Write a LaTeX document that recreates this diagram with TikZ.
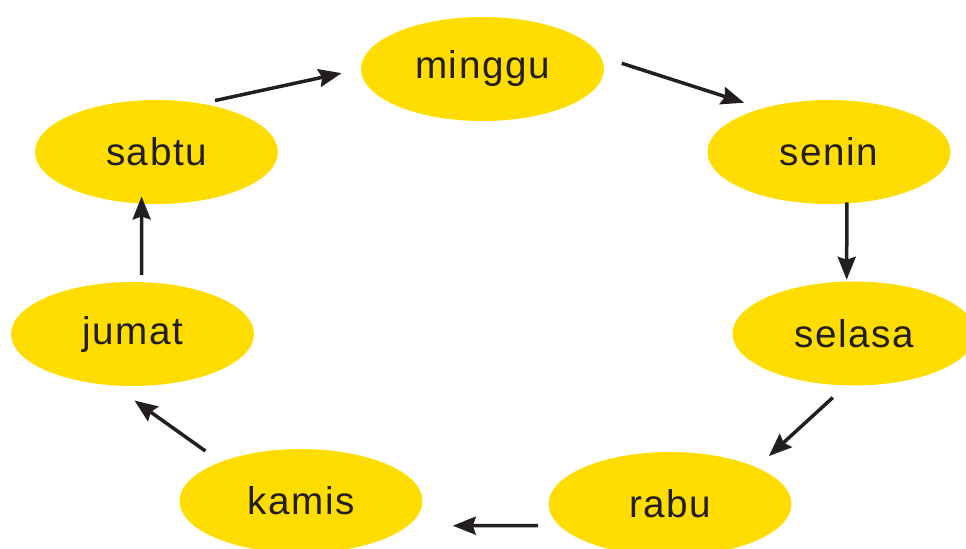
\documentclass[tikz,border=0pt]{standalone}
\usepackage{fontspec}
\setmainfont{Liberation Sans}[LetterSpace=4]
\usetikzlibrary{arrows.meta,shapes.geometric}
\definecolor{dayyellow}{RGB}{255,221,0}
\definecolor{inkdark}{RGB}{35,31,32}

\begin{document}
\begin{tikzpicture}[x=0.02cm, y=-0.02cm,
  day/.style={fill=dayyellow, ellipse, minimum width=4.86cm, minimum height=2.08cm, inner sep=0pt, text=inkdark, font=\fontsize{22}{26}\selectfont},
  flow/.style={line width=0.07cm, draw=inkdark, -{Stealth[length=0.46cm, width=0.36cm, inset=0.06cm]}}]
\useasboundingbox (0,0) rectangle (966,548);

\node[day] (minggu) at (482.5,69) {minggu};
\node[day] (senin) at (829,152) {senin};
\node[day] (selasa) at (854,333.5) {selasa};
\node[day] (rabu) at (670,504) {rabu};
\node[day] (kamis) at (301,501) {kamis};
\node[day] (jumat) at (132.5,334) {jumat};
\node[day] (sabtu) at (156.5,152) {sabtu};

\draw[flow, shorten <=0.27cm, shorten >=0.39cm] (sabtu.47) to (minggu.180);
\draw[flow, shorten <=0.44cm, shorten >=0.37cm] (minggu.6) to (senin.147);
\draw[flow, shorten <=-0.03cm, shorten >=0.03cm] (senin.-71) to (selasa.98);
\draw[flow, shorten <=0.35cm, shorten >=0.33cm] (selasa.-99) to (rabu.23);
\draw[flow, shorten <=0.42cm, shorten >=0.89cm] (rabu.191) to (kamis.-13);
\draw[flow, shorten <=0.37cm, shorten >=0.51cm] (kamis.154) to (jumat.-110);
\draw[flow, shorten <=0.14cm, shorten >=-0.15cm] (jumat.80) to (sabtu.-106);

\end{tikzpicture}
\end{document}
